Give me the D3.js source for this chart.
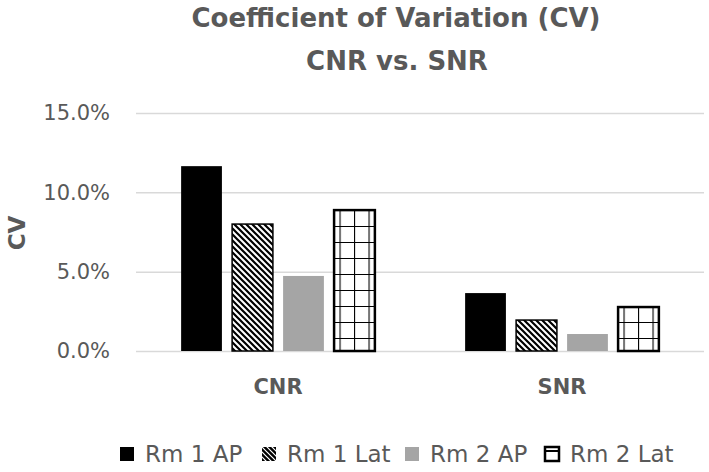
<!DOCTYPE html>
<html>
<head>
<meta charset="utf-8">
<script src="https://cdn.jsdelivr.net/npm/d3@7"></script>
<style>
  body { margin: 0; background: #fff; }
  svg { display: block; }
  text { font-family: "DejaVu Sans", sans-serif; fill: #595959; }
</style>
</head>
<body>
<svg id="chart" width="709" height="472"></svg>
<script>
const categories = ["CNR", "SNR"];
const series = ["Rm 1 AP", "Rm 1 Lat", "Rm 2 AP", "Rm 2 Lat"];
const cnrValues = [0.1165, 0.080, 0.0473, 0.0888];
const snrValues = [0.0365, 0.0195, 0.0107, 0.0277];
const yTicks = [0, 0.05, 0.10, 0.15];

const values = [cnrValues, snrValues];
const data = categories.map((c, i) => ({
  cat: c,
  bars: series.map((s, j) => ({ series: s, value: values[i][j] }))
}));

const svg = d3.select("#chart");
const width = 709, height = 472;
const margin = { left: 136, right: 5, top: 113, bottom: 121 };

// patterns
const defs = svg.append("defs");
const diag = defs.append("pattern")
  .attr("id", "diag")
  .attr("patternUnits", "userSpaceOnUse")
  .attr("width", 6).attr("height", 6);
diag.append("rect").attr("width", 6).attr("height", 6).attr("fill", "#fff");
diag.append("path")
  .attr("d", "M-1,-1 L7,7 M-4,2 L4,10 M2,-4 L10,4")
  .attr("stroke", "#000").attr("stroke-width", 2.2);

const grid = defs.append("pattern")
  .attr("id", "grid")
  .attr("patternUnits", "userSpaceOnUse")
  .attr("x", 334).attr("y", 2)
  .attr("width", 14.5).attr("height", 16);
grid.append("rect").attr("width", 14.5).attr("height", 16).attr("fill", "#fff");
grid.append("path")
  .attr("d", "M0,0 V16 M0,0 H14.5")
  .attr("stroke", "#000").attr("stroke-width", 2.2);

const fills = {
  "Rm 1 AP": "#000",
  "Rm 1 Lat": "url(#diag)",
  "Rm 2 AP": "#a5a5a5",
  "Rm 2 Lat": "url(#grid)"
};
const strokes = {
  "Rm 1 AP": "none",
  "Rm 1 Lat": "#000",
  "Rm 2 AP": "none",
  "Rm 2 Lat": "#000"
};
const strokeW = { "Rm 1 AP": 0, "Rm 1 Lat": 1.5, "Rm 2 AP": 0, "Rm 2 Lat": 2.5 };

const x0 = d3.scaleBand()
  .domain(categories)
  .range([margin.left, width - margin.right]);

const x1 = d3.scaleBand()
  .domain(series)
  .range([0, x0.bandwidth()])
  .paddingInner(0.2)
  .paddingOuter(0.885);

const y = d3.scaleLinear()
  .domain([0, 0.15])
  .range([height - margin.bottom, margin.top]);

// gridlines + y labels
const yAxis = d3.axisLeft(y)
  .tickValues(yTicks)
  .tickSize(-(width - margin.left - margin.right))
  .tickPadding(26)
  .tickFormat(d3.format(".1%"));

const gy = svg.append("g")
  .attr("transform", `translate(${margin.left},0)`)
  .call(yAxis);
gy.select(".domain").remove();
gy.selectAll(".tick line").attr("stroke", "#d9d9d9").attr("stroke-width", 1.5);
gy.selectAll(".tick text")
  .attr("fill", "#595959")
  .style("font-size", "21px");

// bars
const groups = svg.append("g").selectAll("g")
  .data(data)
  .join("g")
  .attr("transform", d => `translate(${x0(d.cat)},0)`);

groups.selectAll("rect")
  .data(d => d.bars)
  .join("rect")
  .attr("x", d => x1(d.series))
  .attr("y", d => y(d.value))
  .attr("width", x1.bandwidth())
  .attr("height", d => y(0) - y(d.value))
  .attr("fill", d => fills[d.series])
  .attr("stroke", d => strokes[d.series])
  .attr("stroke-width", d => strokeW[d.series]);

// category labels
const xAxis = d3.axisBottom(x0).tickSize(0).tickPadding(28);
const gx = svg.append("g")
  .attr("transform", `translate(0,${y(0)})`)
  .call(xAxis);
gx.select(".domain").remove();
gx.selectAll(".tick text")
  .attr("fill", "#595959")
  .style("font-size", "21px")
  .style("font-weight", "bold");

// y title
svg.append("text")
  .attr("transform", "translate(25,233) rotate(-90)")
  .attr("text-anchor", "middle")
  .style("font-size", "23px")
  .style("font-weight", "bold")
  .text("CV");

// title
const title = svg.append("text")
  .attr("text-anchor", "middle")
  .style("font-size", "26px")
  .style("font-weight", "bold");
title.append("tspan").attr("x", 396).attr("y", 27).text("Coefficient of Variation (CV)");
title.append("tspan").attr("x", 397).attr("y", 70).text("CNR vs. SNR");

// legend
const legendX = [120, 262, 405, 545];
const legend = svg.append("g").selectAll("g")
  .data(series)
  .join("g")
  .attr("transform", (d, i) => `translate(${legendX[i]},447)`);

const legDefs = defs.append("pattern")
  .attr("id", "diagLeg")
  .attr("patternUnits", "userSpaceOnUse")
  .attr("width", 5).attr("height", 5);
legDefs.append("rect").attr("width", 5).attr("height", 5).attr("fill", "#000");
legDefs.append("path")
  .attr("d", "M-1,-1 L6,6 M-3,2 L3,8 M2,-3 L8,3")
  .attr("stroke", "#fff").attr("stroke-width", 1.2);

legend.append("rect")
  .attr("x", 0).attr("y", 0)
  .attr("width", 14).attr("height", 14)
  .attr("fill", d => d === "Rm 1 Lat" ? "url(#diagLeg)" : d === "Rm 2 Lat" ? "#fff" : fills[d])
  .attr("stroke", d => d === "Rm 2 Lat" ? "#000" : "none")
  .attr("stroke-width", 2.5);
legend.filter(d => d === "Rm 2 Lat").append("line")
  .attr("x1", 0).attr("x2", 14).attr("y1", 4).attr("y2", 4)
  .attr("stroke", "#000").attr("stroke-width", 2);

legend.append("text")
  .attr("x", 25)
  .attr("y", 15)
  .style("font-size", "23px")
  .text(d => d);
</script>
</body>
</html>
